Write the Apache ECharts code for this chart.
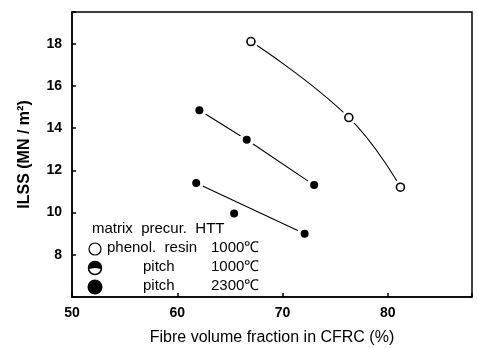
<!DOCTYPE html>
<html>
<head>
<meta charset="utf-8">
<script src="https://cdn.jsdelivr.net/npm/echarts@6/dist/echarts.min.js"></script>
<style>
  html, body { margin: 0; padding: 0; background: #fff; }
  #chart { width: 477px; height: 348px; }
</style>
</head>
<body>
<div id="chart"></div>
<script>
// fibre volume fraction (%) and ILSS (MN/m2)
var phenolX = [67.0, 76.3, 81.2];
var phenolY = [18.1, 14.5, 11.2];
var pitch1000X = [62.1, 66.6, 73.0];
var pitch1000Y = [14.85, 13.45, 11.3];
var pitch2300X = [61.8, 65.4, 72.1];
var pitch2300Y = [11.4, 9.95, 9.0];
var xTicks = [50, 60, 70, 80];
var yTicks = [8, 10, 12, 14, 16, 18];

function pairs(xs, ys) {
  var out = [];
  for (var i = 0; i < xs.length; i++) out.push([xs[i], ys[i]]);
  return out;
}

var phenol = pairs(phenolX, phenolY);
var p1000 = pairs(pitch1000X, pitch1000Y);
var p2300 = pairs(pitch2300X, pitch2300Y);
// fitted line of the 2300 C set runs from first to last point
var p2300fit = [p2300[0], p2300[p2300.length - 1]];

var font = 'Liberation Sans';
var chart = echarts.init(document.getElementById('chart'));

var option = {
  animation: false,
  backgroundColor: '#fff',
  grid: {
    left: 72, right: 5, top: 12, bottom: 51,
    outerBoundsMode: 'none', containLabel: false,
    show: true, borderColor: '#000', borderWidth: 1.5
  },
  xAxis: {
    type: 'value', min: 50, max: 88, interval: 10,
    name: 'Fibre volume fraction in CFRC (%)',
    nameLocation: 'middle', nameGap: 33,
    nameTextStyle: { color: '#000', fontFamily: font, fontSize: 16 },
    axisLine: { lineStyle: { color: '#000', width: 1.5 } },
    axisTick: { inside: true, length: 4, lineStyle: { color: '#000', width: 1.5 } },
    axisLabel: {
      color: '#000', fontFamily: font, fontSize: 14, fontWeight: 'bold', margin: 9,
      formatter: function (v) { return xTicks.indexOf(v) >= 0 ? v : ''; }
    },
    splitLine: { show: false }
  },
  yAxis: {
    type: 'value', min: 6, max: 19.5, interval: 2,
    name: 'ILSS (MN / m²)',
    nameLocation: 'middle', nameGap: 39, nameRotate: 90,
    nameTextStyle: { color: '#000', fontFamily: font, fontSize: 16, fontWeight: 'bold' },
    axisLine: { lineStyle: { color: '#000', width: 1.5 } },
    axisTick: { inside: true, length: 4, lineStyle: { color: '#000', width: 1.5 } },
    axisLabel: {
      color: '#000', fontFamily: font, fontSize: 14, fontWeight: 'bold', margin: 10,
      formatter: function (v) { return yTicks.indexOf(v) >= 0 ? v : ''; }
    },
    splitLine: { show: false }
  },
  series: [
    { type: 'line', data: phenol, smooth: 0.45, symbol: 'none', z: 2,
      lineStyle: { color: '#000', width: 1.1 } },
    { type: 'line', data: p1000, symbol: 'none', z: 2,
      lineStyle: { color: '#000', width: 1.1 } },
    { type: 'line', data: p2300fit, symbol: 'none', z: 2,
      lineStyle: { color: '#000', width: 1.1 } },
    // white halos so the lines stop short of the markers
    { type: 'scatter', data: phenol.concat(p1000, p2300), symbolSize: 15, z: 3,
      itemStyle: { color: '#fff', opacity: 1 } },
    { type: 'scatter', data: phenol, symbolSize: 8, z: 4,
      itemStyle: { color: '#fff', borderColor: '#000', borderWidth: 1.6, opacity: 1 } },
    { type: 'scatter', data: p1000, symbolSize: 8, z: 4,
      itemStyle: { color: '#000', opacity: 1 } },
    { type: 'scatter', data: p2300, symbolSize: 8, z: 4,
      itemStyle: { color: '#000', opacity: 1 } }
  ],
  graphic: [
    { type: 'text', left: 92, top: 221, style: { text: 'matrix  precur.  HTT', font: '15px ' + font, fill: '#000' } },
    { type: 'circle', shape: { cx: 95, cy: 249, r: 6 }, style: { fill: '#fff', stroke: '#000', lineWidth: 1.2 } },
    { type: 'circle', shape: { cx: 95, cy: 268, r: 6.5 }, style: { fill: '#fff', stroke: '#000', lineWidth: 1.5 } },
    { type: 'sector', shape: { cx: 95, cy: 268, r: 6.5, r0: 0, startAngle: Math.PI * 0.95, endAngle: Math.PI * 2.05 }, style: { fill: '#000' } },
    { type: 'circle', shape: { cx: 95, cy: 287, r: 7.5 }, style: { fill: '#000' } },
    { type: 'text', left: 107, top: 240, style: { text: 'phenol.  resin', font: '15px ' + font, fill: '#000' } },
    { type: 'text', left: 143, top: 259, style: { text: 'pitch', font: '15px ' + font, fill: '#000' } },
    { type: 'text', left: 143, top: 278, style: { text: 'pitch', font: '15px ' + font, fill: '#000' } },
    { type: 'text', left: 211, top: 240, style: { text: '1000℃', font: '15px ' + font, fill: '#000' } },
    { type: 'text', left: 211, top: 259, style: { text: '1000℃', font: '15px ' + font, fill: '#000' } },
    { type: 'text', left: 211, top: 278, style: { text: '2300℃', font: '15px ' + font, fill: '#000' } }
  ]
};

chart.setOption(option);
</script>
</body>
</html>
